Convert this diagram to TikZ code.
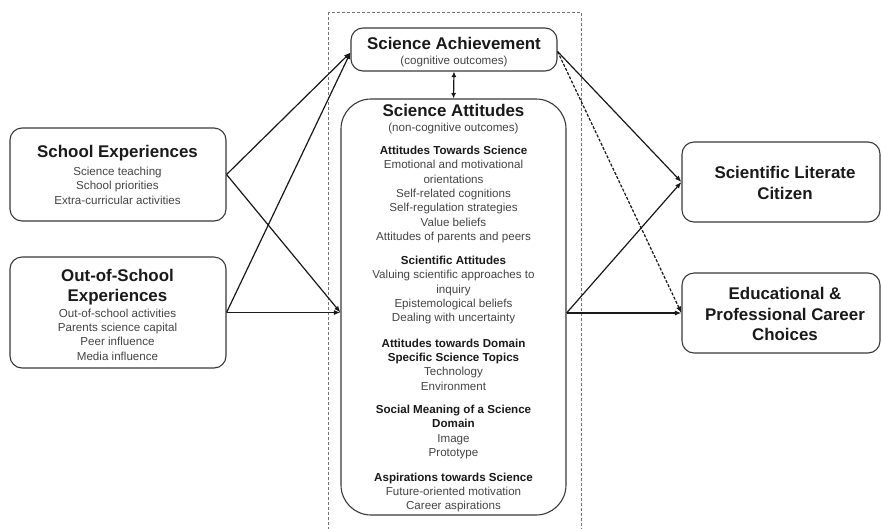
\documentclass[tikz,border=0pt]{standalone}
\usepackage{fontspec}
\setmainfont{Liberation Sans}
\usetikzlibrary{arrows.meta}
\definecolor{boxline}{HTML}{3A3A3A}
\definecolor{itemtext}{HTML}{454545}
\definecolor{headtext}{HTML}{1A1A1A}
\tikzset{
  box/.style={draw=boxline, line width=1.1pt, rounded corners=12pt, inner sep=0pt},
  bigbox/.style={draw=boxline, line width=1.1pt, rounded corners=30pt, inner sep=0pt},
  headfont/.style={font=\fontsize{16.9}{20.5}\selectfont\bfseries, text=headtext, align=center, inner sep=0pt},
  itemfont/.style={font=\fontsize{11.6}{14.4}\selectfont, text=itemtext, align=center, inner sep=0pt},
  conn/.style={line width=1.2pt, draw=black!90, -{Latex[length=6.5pt,width=5pt]}},
  dconn/.style={conn, dash pattern=on 3pt off 1.6pt},
  frame/.style={draw=black!55, line width=0.8pt, dash pattern=on 3pt off 2pt}
}
\newcommand{\hd}[1]{{\bfseries\color{headtext}#1}}
\begin{document}
\begin{tikzpicture}[x=1pt,y=-1pt]
\useasboundingbox (0,0) rectangle (882,528);
\fill[white] (0,0) rectangle (882,528);
% dashed frame
\draw[frame] (328,12) rectangle (581,540);
% boxes
\node[box, minimum width=216pt, minimum height=93pt] (school) at (118,174.5) {};
\node[box, minimum width=216pt, minimum height=111pt] (oos) at (118,312.5) {};
\node[box, minimum width=206pt, minimum height=43pt] (ach) at (454,49.5) {};
\node[bigbox, minimum width=225pt, minimum height=416pt] (att) at (453.5,307) {};
\node[box, minimum width=198pt, minimum height=80pt] (slc) at (781,182) {};
\node[box, minimum width=198pt, minimum height=80pt] (edu) at (781,313) {};
% texts: school
\node[headfont] (schoolh) at (117.5,153) {School Experiences};
\node[itemfont] (schooli) at (117.5,185.5) {Science teaching\\School priorities\\Extra-curricular activities};
% out of school
\node[headfont] (oosh) at (117.5,287) {Out-of-School\\Experiences};
\node[itemfont] (oosi) at (117.5,334.5) {Out-of-school activities\\Parents science capital\\Peer influence\\Media influence};
% achievement
\node[headfont] (achh) at (454,43) {Science Achievement};
\node[itemfont] (achs) at (454,61) {(cognitive outcomes)};
% attitudes
\node[headfont] (atth) at (453.5,110) {Science Attitudes};
\node[itemfont] (atts) at (453.5,128) {(non-cognitive outcomes)};
\node[itemfont] (g1) at (453.5,194.5) {\hd{Attitudes Towards Science}\\Emotional and motivational\\orientations\\Self-related cognitions\\Self-regulation strategies\\Value beliefs\\Attitudes of parents and peers};
\node[itemfont] (g2) at (453.5,290) {\hd{Scientific Attitudes}\\Valuing scientific approaches to\\inquiry\\Epistemological beliefs\\Dealing with uncertainty};
\node[itemfont] (g3) at (453.5,364.5) {\hd{Attitudes towards Domain}\\\hd{Specific Science Topics}\\Technology\\Environment};
\node[itemfont] (g4) at (453.5,432) {\hd{Social Meaning of a Science}\\\hd{Domain}\\Image\\Prototype};
\node[itemfont] (g5) at (453.5,492.5) {\hd{Aspirations towards Science}\\Future-oriented motivation\\Career aspirations};
% outcomes
\node[headfont] (slch) at (785,183) {Scientific Literate\\Citizen};
\node[headfont] (eduh) at (785,314) {Educational \&\\Professional Career\\Choices};
% connectors
\coordinate (achin) at ([yshift=-3pt]ach.west);
\coordinate (achout) at ([yshift=-2pt]ach.east);
\coordinate (attin) at (att.west |- oos.east);
\coordinate (attout) at (att.east |- edu.west);
\draw[conn] (school.east) -- (achin);
\draw[conn] (school.east) -- (attin);
\draw[conn] (oos.east) -- (achin);
\draw[conn] (oos.east) -- (attin);
\draw[line width=1.2pt, draw=black!90, {Latex[length=5.5pt,width=5pt]}-{Latex[length=5.5pt,width=5pt]}] (ach.south) -- (att.north);
\draw[conn] (achout) -- (slc.west);
\draw[dconn] (achout) -- (edu.west);
\draw[conn] (attout) -- (slc.west);
\draw[conn] (attout) -- (edu.west);
\end{tikzpicture}
\end{document}
